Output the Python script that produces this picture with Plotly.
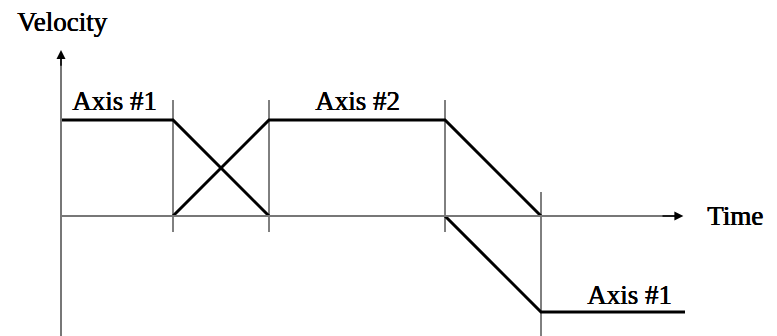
import plotly.graph_objects as go

# Time breakpoints (arbitrary units) and velocity levels
axis1_t = [0, 7, 13, None, 24, 30, 39]
axis1_v = [1, 1, 0, None, 0, -1, -1]
axis2_t = [7, 13, 24, 30]
axis2_v = [0, 1, 1, 0]
marker_t = [7, 13, 24, 30]

labels = ["Axis #1", "Axis #2", "Axis #1"]
label_t = [3.36, 18.53, 35.53]
label_v = [1.20, 1.20, -0.82]

X_RANGE = [-61 / 16, (777 - 61) / 16]
Y_RANGE = [-1.25, 2.25]
SHADOW = "0.6px 0px 0px #000, 0.3px 0.2px 0px #000"
LABEL_FONT = dict(family="Liberation Serif", size=27, color="black", shadow=SHADOW)
TITLE_FONT = dict(family="Liberation Serif", size=27, color="black", shadow=SHADOW)

fig = go.Figure()

# marker lines
for i, t in enumerate(marker_t):
    if i < 3:
        y0, y1 = -0.167, 1.208
    else:
        y0, y1 = -1.25, 0.25
    fig.add_shape(type="line", x0=t, x1=t, y0=y0, y1=y1, xref="x", yref="y",
                  line=dict(color="black", width=1))

# axes
fig.add_shape(type="line", x0=0, x1=0, y0=Y_RANGE[0], y1=1.70, xref="x", yref="y",
              line=dict(color="#777777", width=2))
fig.add_shape(type="line", x0=0, x1=38.6, y0=0, y1=0, xref="x", yref="y",
              line=dict(color="#777777", width=2))
fig.add_annotation(x=0, y=1.73, ax=0, ay=1.55, xref="x", yref="y", axref="x", ayref="y",
                   showarrow=True, arrowhead=2, arrowsize=1.2, arrowwidth=1.5,
                   arrowcolor="black", text="")
fig.add_annotation(x=38.9, y=0, ax=37.5, ay=0, xref="x", yref="y", axref="x", ayref="y",
                   showarrow=True, arrowhead=2, arrowsize=1.2, arrowwidth=1.5,
                   arrowcolor="black", text="")

fig.add_trace(go.Scatter(x=axis1_t, y=axis1_v, mode="lines", connectgaps=False,
                         line=dict(color="black", width=3), hoverinfo="skip"))
fig.add_trace(go.Scatter(x=axis2_t, y=axis2_v, mode="lines",
                         line=dict(color="black", width=3), hoverinfo="skip"))

for txt, t, v in zip(labels, label_t, label_v):
    fig.add_annotation(x=t, y=v, text=txt, showarrow=False, font=LABEL_FONT,
                       xanchor="center", yanchor="middle")
fig.add_annotation(x=42.15, y=0.0, text="Time", showarrow=False, font=TITLE_FONT,
                   xanchor="center", yanchor="middle")
fig.add_annotation(x=0.06, y=2.025, text="Velocity", showarrow=False, font=TITLE_FONT,
                   xanchor="center", yanchor="middle")

fig.update_layout(
    width=777, height=336, autosize=False,
    margin=dict(l=0, r=0, t=0, b=0),
    paper_bgcolor="white", plot_bgcolor="white",
    showlegend=False,
    xaxis=dict(range=X_RANGE, visible=False, fixedrange=True),
    yaxis=dict(range=Y_RANGE, visible=False, fixedrange=True),
)
fig.write_html("out.html", config={"displayModeBar": False},
               post_script="document.body.style.margin='0';")
